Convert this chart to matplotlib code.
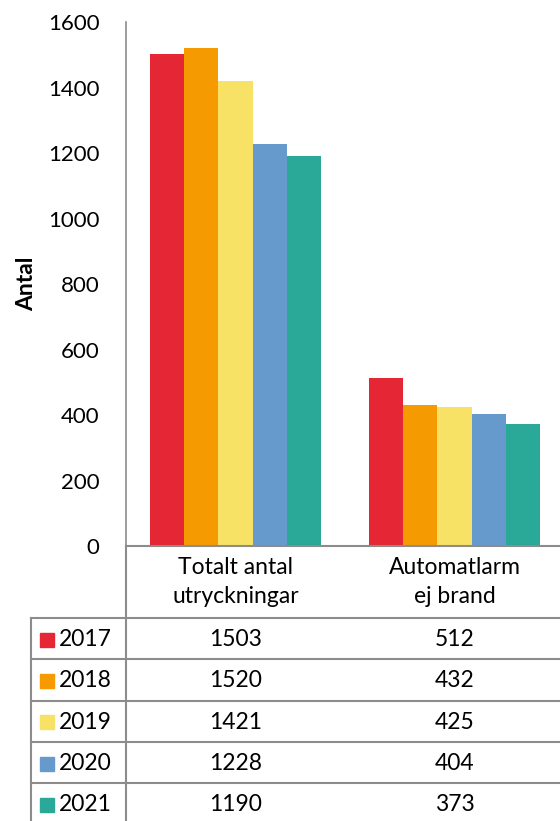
import matplotlib.pyplot as plt
import matplotlib.transforms as mtransforms
from matplotlib.patches import Rectangle
import numpy as np

plt.rcParams['font.family'] = ['Lato', 'DejaVu Sans']

categories = ["Totalt antal\nutryckningar", "Automatlarm\nej brand"]
years = ["2017", "2018", "2019", "2020", "2021"]
# one list per year: [Totalt antal utryckningar, Automatlarm ej brand]
values = [
    [1503, 512],
    [1520, 432],
    [1421, 425],
    [1228, 404],
    [1190, 373],
]
colors = ["#E52634", "#F59A00", "#F7E265", "#6699CC", "#2AA898"]
grid_col = "#8c8c8c"
fs = 16.5

W, H = 560, 821
fig = plt.figure(figsize=(W / 100, H / 100), dpi=100)

# main chart area (pixel geometry)
left, right, top, base = 126, 564, 22, 546
ax = fig.add_axes([left / W, (H - base) / H, (right - left) / W, (base - top) / H])

x = np.arange(len(categories))
bw = 0.157
for i, yr in enumerate(years):
    ax.bar(x + (i - 2) * bw, values[i], bw, color=colors[i], zorder=3)

ax.set_xlim(-0.5, len(categories) - 0.5)
ax.set_ylim(0, 1600)
ax.set_yticks(range(0, 1601, 200))
ax.tick_params(axis='y', length=0, labelsize=16, pad=19)
ax.set_xticks([])
for s in ["top", "right", "bottom"]:
    ax.spines[s].set_visible(False)
ax.spines["left"].set_color(grid_col)
ax.spines["left"].set_linewidth(1.2)
ax.set_ylabel("Antal", fontsize=16.5, fontweight="bold", labelpad=8)

# data table below the chart, y in pixels
tax = fig.add_axes([0, 0, 1, 1])
tax.set_xlim(0, W)
tax.set_ylim(H, 0)
tax.axis("off")
tr = mtransforms.blended_transform_factory(ax.transData, tax.transData)

row_top = 618
row_h = 41.3
lw = 1.5
tax.plot([left, W], [base, base], color=grid_col, lw=lw)
tax.plot([left, left], [base, H], color=grid_col, lw=lw)
tax.plot([31, 31], [row_top, H], color=grid_col, lw=lw)
for r in range(len(years)):
    yy = row_top + r * row_h
    tax.plot([31, W], [yy, yy], color=grid_col, lw=lw)

for j, cat in enumerate(categories):
    tax.text(j, 582, cat, transform=tr, ha="center", va="center",
             fontsize=fs, linespacing=1.45)

for i, yr in enumerate(years):
    yc = row_top + i * row_h + row_h / 2 + 1
    tax.add_patch(Rectangle((40, yc - 7), 14, 14, color=colors[i]))
    tax.text(59, yc, yr, ha="left", va="center", fontsize=fs)
    for j in range(len(categories)):
        tax.text(j, yc, str(values[i][j]), transform=tr, ha="center",
                 va="center", fontsize=fs)

fig.savefig("out.png", dpi=100)
